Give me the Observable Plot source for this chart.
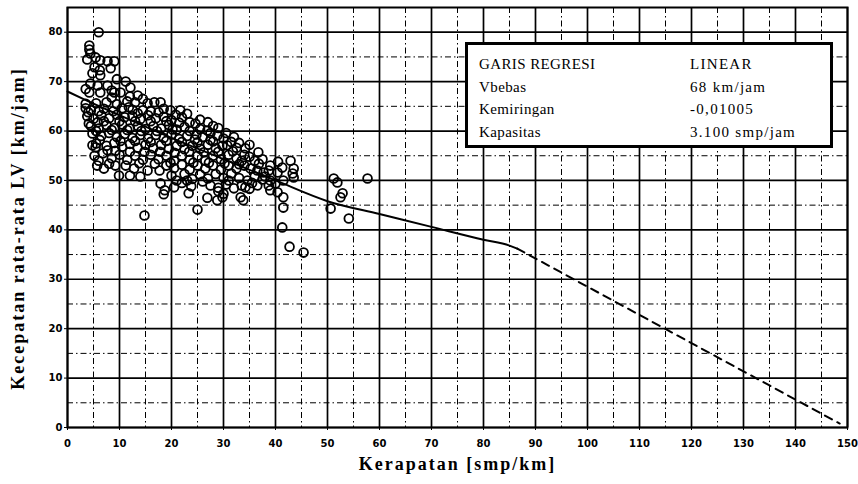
<!DOCTYPE html>
<html>
<head>
<meta charset="utf-8">
<script src="https://cdn.jsdelivr.net/npm/d3@7"></script>
<script src="https://cdn.jsdelivr.net/npm/@observablehq/plot@0.6"></script>
<style>
  html, body { margin: 0; padding: 0; background: #fff; }
  #wrap { position: relative; width: 858px; height: 484px; }
  #legend {
    position: absolute; left: 465px; top: 42px; width: 368px; height: 106px;
    box-sizing: border-box; border: 3.5px solid #000; background: #fff;
    font-family: "Liberation Serif", "Times New Roman", serif; font-size: 15px; color: #000;
  }
  #legend .row { position: absolute; left: 11px; right: 0; height: 20px; }
  #legend .row span { position: absolute; white-space: nowrap; font-family: "Liberation Serif", serif; }
  #legend .row span.k { letter-spacing: 0.4px; }
  #legend .row span.v { left: 211px; letter-spacing: 1.3px; }
  svg text.title { letter-spacing: 2px; }
</style>
</head>
<body>
<div id="wrap"></div>
<script>
// ---- data ----
const xTicks = [0,10,20,30,40,50,60,70,80,90,100,110,120,130,140,150];
const yTicks = [0,10,20,30,40,50,60,70,80];
const xMinor = [5,15,25,35,45,55,65,75,85,95,105,115,125,135,145];
const yMinor = [5,15,25,35,45,55,65,75];

// observed (Kerapatan smp/km, Kecepatan km/jam)
const observations = [
  [6,80],[4.2,77.3],[4.2,76.5],[4.4,75.7],[3.8,74.5],[5.4,74.9],[6.3,74.3],[7.7,74.1],[9,74.1],
  [5.2,72.9],[6.2,72.3],[8.3,72.7],[4.8,71.7],[6.3,71.3],[4.4,69.6],[5.8,69.2],[7.7,69.2],[11.2,70],[12.1,68.8],[9.5,70.5],[3.5,68.5],[8.5,68.2],
  [4.2,67.8],[6.3,67.8],[9,67.8],[10.2,67.8],[13.5,67.2],[13,65.8],[15.4,65.6],[16.7,65.8],[17.9,65.8],[3.5,65.5],[5.5,65.6],[7.5,65.8],[9.5,65.4],[11.5,66],
  [8.5,66.8],[12,67],[14.5,66.5],
  [3.5,64.6],[4.5,64.2],[7,64.5],[10.5,64.6],[12.5,64.3],[14.5,64.2],[19.8,64.2],[21.7,64.2],[18.5,64.5],
  [4,63.8],[6,64],[8.8,64],[11.8,64.8],[13.5,63.6],[16,64],[17.5,63.8],[20.8,63.3],[23,63.5],
  [3.8,63],[5,62.5],[6.5,63.2],[8,62.6],[9.5,63.3],[11,62.8],[12.5,63],[14,62.4],[15.5,63.2],[17,62.6],[18.5,62.9],[20,62.2],[22,62.8],[23.5,61.8],[24.6,61.5],
  [5.8,61.8],[7,62],[10,62],[13,62],[16,62],[19,62],[21.5,61.7],[25.5,62.3],[27,61.8],[29,60.6],
  [4.1,61.5],[4.5,61],[6,60.5],[7.5,61.2],[9,60.6],[10.5,61.3],[12,60.5],[13.5,61],[15,60.4],[16.5,61],[18,60.5],[19.5,61.2],[21,60.3],[22.5,60.8],[26.9,60.1],[28,61],[25.5,60.4],
  [5.5,60],[8.5,60.2],[11.5,60.2],[14.2,60],[17.2,60],[20.2,60.3],[23.5,60],[24.8,59.3],[27.5,59.6],[30.5,59.6],[32,58.8],
  [4.8,59.5],[6.5,59],[8,59.6],[9.5,58.8],[11,59.4],[12.5,58.6],[14,59.2],[15.5,58.5],[17,59.2],[18.5,58.6],[20,59.3],[21.5,58.4],[23,59],[24.5,58.3],[26,58.8],[27.5,58.2],[28.8,59.1],[30,58.5],[31.5,57.8],
  [6.2,58.2],[10.2,58],[13,58],[16,57.8],[19,58],[22,57.8],[25,57.7],[28,57.9],[29.8,57],[33,57.6],[35,57.2],
  [5.5,57.5],[7.5,57],[9,57.6],[10.5,56.8],[12,57.4],[13.5,56.6],[15,57.2],[16.5,56.5],[18,57.2],[19.5,56.4],[21,57],[22.5,56.3],[24,57],[25.5,56.4],[27,57.2],[28.5,56.5],[30.7,57.1],[32.5,56.6],[34.2,56.5],[36.7,55.7],
  [6.8,55.5],[9.2,56],[12,55.8],[14.8,55.8],[17.8,55.8],[20.6,55.6],[23.4,55.8],[26.2,55.7],[29,55.8],[31.8,55.9],[34,55.2],[36,54],
  [4.8,57.1],[5.4,56.7],[7.7,56.1],[5.2,55],[6,54],[8.5,54.5],[10,55.2],[11.5,54.2],[13,55],[14.5,54.2],[16,55.2],[17.5,54.3],[19,55],[20.5,54],[22,55],[23.5,54.2],[25,55],[26.5,54],[28,55],[29.5,54.3],[31,55.2],[32.5,54.5],[33.5,54],[35,54.8],[37.5,54.3],
  [8,53.4],[13.8,53.5],[16.8,53.4],[19.8,53.6],[24.2,53.6],[27.2,53.6],[30.2,53.5],[33,53.3],[36.8,53.4],[39,53],[40.5,53.8],
  [5.7,53],[7,52.4],[9.2,53],[9.9,51],[11.2,53],[12.8,52.4],[15.4,52],[17.7,52],[19,53],[20.5,52.5],[22,53.2],[23.5,52.2],[25,53],[26.5,52.4],[28,53],[29.5,52.2],[31,53],[32.5,52.4],[34,53],[35.2,52.4],[36.5,52],[37.7,51.6],[38.7,52],[40.4,51.6],[41.3,52.6],[42.9,54],[43.5,52.4],[43.3,51.4],
  [12,51],[14,50.8],[23,50],[26,49.8],[31,50],[35.5,49.5],[38,50.8],[41.5,50],
  [17.9,49.4],[18.7,48],[20,51],[21,50],[22.5,51.3],[24,50.3],[25.5,51.2],[27,50.4],[28.5,51.3],[30,50.5],[31.5,51.4],[33,50.5],[34.6,50],[36,50.8],[37.5,50.2],[39,50],[40,49.4],[38.7,49],[39,48],[40.4,47.6],[43.5,50.6],
  [27.5,49],[29,48.5],[30.5,49.2],[32,48.4],[33.5,49],[35,48.3],[36.5,49],[22,49.5],[20.5,48.6],[23.8,48.8],
  [18.5,47.2],[23.3,47.4],[26.9,46.5],[28.8,46],[29.8,46.6],[33.8,46],[33.3,46.6],[34.2,48.6],[30,47.3],[29,47.8],[41.5,46.6],[41.5,44.5],[25,44.1],[14.8,42.9],
  [51.2,50.4],[51.9,49.6],[52.9,47.4],[52.5,46.6],[50.6,44.3],[54.1,42.3],[57.7,50.4],[41.3,40.5],[42.7,36.6],[45.4,35.4]
];

// regression line: solid (observed range) and dashed (extrapolation)
const fitSolid = [[0,68],[3,66.5],[10,63.2],[20,58.6],[30,54.3],[40,50],[50,45.8],[60,43.2],[70,40.6],[80,38],[85,36.8],[86.5,36.2]];
const fitDashed = [[86.5,36.2],[148.5,0.8]];

const legendRows = [
  ["GARIS REGRESI", "LINEAR"],
  ["Vbebas", "68 km/jam"],
  ["Kemiringan", "-0,01005"],
  ["Kapasitas", "3.100 smp/jam"]
];

// ---- chart ----
const chart = Plot.plot({
  width: 858,
  height: 484,
  marginLeft: 67,
  marginRight: 11,
  marginTop: 7,
  marginBottom: 57,
  style: { background: "#fff" },
  x: { domain: [0, 150] },
  y: { domain: [0, 85] },
  marks: [
    Plot.ruleX(xMinor, { stroke: "#000", strokeWidth: 1, strokeDasharray: "6,3,1.5,3" }),
    Plot.ruleY(yMinor, { stroke: "#000", strokeWidth: 1, strokeDasharray: "6,3,1.5,3" }),
    Plot.ruleX(xTicks, { stroke: "#000", strokeWidth: 1.7 }),
    Plot.ruleY(yTicks, { stroke: "#000", strokeWidth: 1.7 }),
    Plot.frame({ stroke: "#000", strokeWidth: 2 }),
    Plot.axisX({ ticks: xTicks, tickSize: 3, tickPadding: 9, label: null,
      fontFamily: "DejaVu Sans", fontWeight: "bold", fontSize: 10 }),
    Plot.axisY({ ticks: yTicks, tickSize: 3, tickPadding: 2, label: null,
      fontFamily: "DejaVu Sans", fontWeight: "bold", fontSize: 10 }),
    Plot.line(fitSolid, { x: d => d[0], y: d => d[1], stroke: "#000", strokeWidth: 2, curve: "monotone-x" }),
    Plot.line(fitDashed, { x: d => d[0], y: d => d[1], stroke: "#000", strokeWidth: 2, strokeDasharray: "8,6" }),
    Plot.dot(observations, { x: d => d[0], y: d => d[1], r: 4.4, stroke: "#000", strokeWidth: 1.8, fill: "none" }),
    Plot.text(["Kerapatan [smp/km]"], { frameAnchor: "bottom", dy: 42, className: "title", fontFamily: "Liberation Serif", fontWeight: "bold", fontSize: 18, fill: "#000" }),
    Plot.text(["Kecepatan rata-rata LV [km/jam]"], { frameAnchor: "left", textAnchor: "middle", dx: -49, dy: 11, rotate: -90, fontFamily: "Liberation Serif", fontWeight: "bold", fontSize: 18, fill: "#000" })
  ]
});
chart.style.overflow = "visible";
// wider letter spacing for the two axis titles, as in the scanned original
chart.querySelectorAll("text").forEach(t => {
  if (t.textContent === "Kerapatan [smp/km]" || t.textContent === "Kecepatan rata-rata LV [km/jam]") {
    t.style.letterSpacing = "2px";
  }
});
document.getElementById("wrap").appendChild(chart);

// legend box
const legend = document.createElement("div");
legend.id = "legend";
legendRows.forEach((r, i) => {
  const row = document.createElement("div");
  row.className = "row";
  row.style.top = (11 + i * 22.5) + "px";
  const a = document.createElement("span"); a.className = "k"; a.textContent = r[0];
  const b = document.createElement("span"); b.className = "v"; b.textContent = r[1];
  row.appendChild(a); row.appendChild(b);
  legend.appendChild(row);
});
document.getElementById("wrap").appendChild(legend);
</script>
</body>
</html>
